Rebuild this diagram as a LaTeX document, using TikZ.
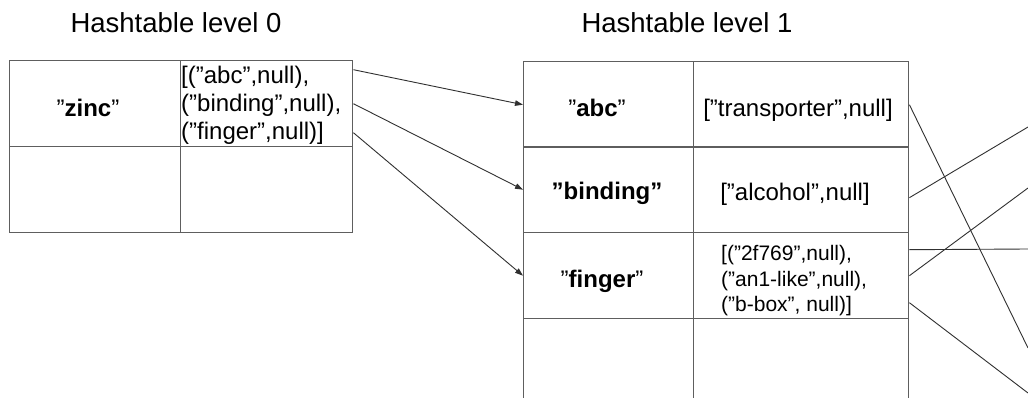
\documentclass[tikz,border=0pt]{standalone}
\usepackage{fontspec}
\setmainfont{Liberation Sans}
\usetikzlibrary{arrows.meta,calc}
\definecolor{gridgray}{HTML}{5E5E5E}
\definecolor{linkgray}{HTML}{303030}
\begin{document}
\begin{tikzpicture}[x=1pt,y=-1pt,
  cell/.style={draw=gridgray, line width=1.4pt, anchor=north west, inner sep=0pt, minimum height=86pt},
  title/.style={font=\fontsize{27.5}{31}\selectfont, inner sep=0pt, anchor=base},
  keytext/.style={font=\fontsize{24}{28}\selectfont, inner sep=0pt, anchor=base},
  valtext/.style={font=\fontsize{24}{28}\selectfont, inner sep=0pt, anchor=base},
  smalltext/.style={font=\fontsize{21}{25}\selectfont, inner sep=0pt, anchor=base west},
  listtext/.style={font=\fontsize{24}{28}\selectfont, inner sep=0pt, anchor=base west},
  link/.style={draw=linkgray, line width=0.9pt},
  arrowlink/.style={link, -{Triangle[length=8pt,width=5.5pt]}}
]
\useasboundingbox (0,0) rectangle (1028,398);
\clip (0,0) rectangle (1028,398);
\fill[white] (0,0) rectangle (1028,398);

% titles
\node[title] (title0) at (176,33) {Hashtable level 0};
\node[title] (title1) at (687,33) {Hashtable level 1};

% level 0 table
\node[cell, minimum width=171pt] (k0a) at (9,60) {};
\node[cell, minimum width=172pt] (v0a) at (180,60) {};
\node[cell, minimum width=171pt] (k0b) at (9,146) {};
\node[cell, minimum width=172pt] (v0b) at (180,146) {};

% level 1 table
\node[cell, minimum width=170pt] (k1a) at (523,61) {};
\node[cell, minimum width=215pt] (v1a) at (693,61) {};
\node[cell, minimum width=170pt] (k1b) at (523,146) {};
\node[cell, minimum width=215pt] (v1b) at (693,146) {};
\node[cell, minimum width=170pt] (k1c) at (523,232) {};
\node[cell, minimum width=215pt] (v1c) at (693,232) {};
\node[cell, minimum width=170pt] (k1d) at (523,318) {};
\node[cell, minimum width=215pt] (v1d) at (693,318) {};

% level 0 texts
\node[keytext] (zinc) at (88,117) {”\textbf{zinc}”};
\node[listtext] (l0a) at (181,84) {[(”abc”,null),};
\node[listtext] (l0b) at (181,112) {(”binding”,null),};
\node[listtext] (l0c) at (181,140) {(”finger”,null)]};

% level 1 texts
\node[keytext] (abc) at (597,117) {”\textbf{abc}”};
\node[keytext] (binding) at (607,200) {\textbf{”binding”}};
\node[keytext] (finger) at (602,287) {”\textbf{finger}”};
\node[valtext] (transp) at (798,117) {[”transporter”,null]};
\node[valtext] (alcohol) at (795,201) {[”alcohol”,null]};
\node[smalltext] (f1) at (721,261) {[(”2f769”,null),};
\node[smalltext] (f2) at (721,286) {(”an1-like”,null),};
\node[smalltext] (f3) at (721,311) {(”b-box”, null)]};

% arrows level 0 -> level 1
\draw[arrowlink] ($(v0a.east)+(0,-34)$) -- (k1a.west);
\draw[arrowlink] (v0a.east) -- (k1b.west);
\draw[arrowlink] ($(v0a.east)+(0,29)$) -- (k1c.west);

% outgoing lines to the right
\coordinate (e1) at (1028,348);
\coordinate (e2) at (1028,127);
\coordinate (e3) at (1028,249);
\coordinate (e4) at (1028,188);
\coordinate (e5) at (1028,393);
\draw[link] (v1a.east) -- (e1);
\draw[link] ($(v1b.east)+(0,8)$) -- (e2);
\draw[link] ($(v1c.east)+(0,-26)$) -- (e3);
\draw[link] (v1c.east) -- (e4);
\draw[link] ($(v1c.east)+(0,27)$) -- (e5);
\end{tikzpicture}
\end{document}
